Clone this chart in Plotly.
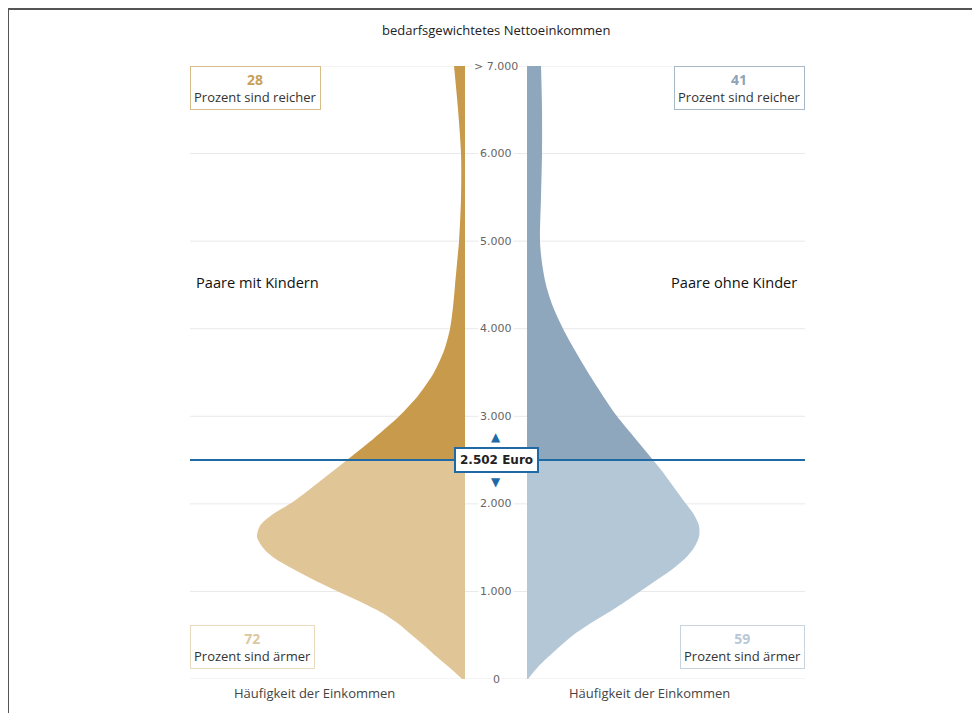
import plotly.graph_objects as go

# ---------------- data ----------------
title_text = "bedarfsgewichtetes Nettoeinkommen"
groups = ["Paare mit Kindern", "Paare ohne Kinder"]
median_income = 2502
median_label = "2.502 Euro"
pct_richer = [28, 41]
pct_poorer = [72, 59]

# income levels (Euro) and relative frequency (density) per group
income = [0, 125, 250, 375, 500, 625, 750, 875, 1000, 1125, 1250, 1375, 1500,
          1625, 1750, 1875, 2000, 2125, 2250, 2375, 2502,
          2750, 3000, 3250, 3500, 3750, 4000, 4250, 4500, 4750, 5000, 5500,
          6000, 6500, 7000]
dens_kinder = [0.03, 0.15, 0.28, 0.40, 0.53, 0.66, 0.82, 1.03, 1.27, 1.50,
               1.71, 1.90, 2.02, 2.08, 2.05, 1.93, 1.75, 1.60, 1.46, 1.32, 1.18,
               0.91, 0.66, 0.46, 0.31, 0.21, 0.15, 0.12, 0.10, 0.08, 0.06,
               0.04, 0.04, 0.07, 0.11]
dens_ohne = [0.01, 0.10, 0.21, 0.33, 0.46, 0.62, 0.80, 0.97, 1.13, 1.29,
             1.45, 1.58, 1.67, 1.72, 1.72, 1.67, 1.59, 1.51, 1.43, 1.35, 1.26,
             1.08, 0.90, 0.75, 0.61, 0.48, 0.36, 0.26, 0.19, 0.15, 0.13,
             0.14, 0.15, 0.15, 0.14]

tick_vals = [0, 1000, 2000, 3000, 4000, 5000, 6000, 7000]
tick_text = ["0", "1.000", "2.000", "3.000", "4.000", "5.000", "6.000", "> 7.000"]
axis_label = "Häufigkeit der Einkommen"

# ---------------- styles ----------------
col_upper = ["#c89a4c", "#8fa7bc"]
col_lower = ["#e0c596", "#b4c7d6"]
num_col_rich = ["#c9a057", "#8ea3b8"]
num_col_poor = ["#dcc8a0", "#b8c8d6"]
box_col_rich = ["#d6bd8a", "#a8b8c7"]
box_col_poor = ["#e8dabd", "#c9d5de"]
blue = "#1f6aa5"
txt_font = "Open Sans"
tick_font = "DejaVu Sans"

left_dom = [0.0, 0.4472]
right_dom = [0.548, 1.0]
center_x = (left_dom[1] + right_dom[0]) / 2

# plot area in window pixels: x 190..805, y 66..679 (page has an 8px body offset)
PL, PT, PW, PH = 190, 66, 615, 613
OFF = 8


def px(xw):
    return (xw - PL) / PW


def py(yw):
    return (PT + PH - yw) / PH


fig = go.Figure()

dens_all = [dens_kinder, dens_ohne]
xaxes = ["x", "x2"]
for g in range(2):
    up_y = [v for v in income if v >= median_income]
    up_x = [d for v, d in zip(income, dens_all[g]) if v >= median_income]
    lo_y = [v for v in income if v <= median_income]
    lo_x = [d for v, d in zip(income, dens_all[g]) if v <= median_income]
    fig.add_trace(go.Scatter(x=lo_x, y=lo_y, xaxis=xaxes[g], yaxis="y",
                             mode="lines", line=dict(width=0, shape="spline", smoothing=0.8),
                             fill="tozerox", fillcolor=col_lower[g], name=groups[g],
                             showlegend=False, hoverinfo="skip"))
    fig.add_trace(go.Scatter(x=up_x, y=up_y, xaxis=xaxes[g], yaxis="y",
                             mode="lines", line=dict(width=0, shape="spline", smoothing=0.8),
                             fill="tozerox", fillcolor=col_upper[g], name=groups[g],
                             showlegend=False, hoverinfo="skip"))

shapes = []
for tv in tick_vals:
    shapes.append(dict(type="line", xref="paper", yref="y", x0=0, x1=1, y0=tv, y1=tv,
                       line=dict(color="#e9e9e9", width=1), layer="below"))
shapes.append(dict(type="line", xref="paper", yref="y", x0=0, x1=1,
                   y0=median_income, y1=median_income,
                   line=dict(color=blue, width=2), layer="above"))
shapes.append(dict(type="rect", xref="paper", yref="paper",
                   x0=px(OFF), x1=px(1000), y0=py(740), y1=py(OFF + 1),
                   line=dict(color="#555555", width=2), layer="below"))

ann = []
for tv, tt in zip(tick_vals, tick_text):
    ann.append(dict(xref="paper", yref="y", x=center_x, y=tv, text=tt, showarrow=False,
                    font=dict(family=tick_font, size=11, color="#666666"),
                    bgcolor="white", xanchor="center", yanchor="middle", borderpad=1))
ann.append(dict(xref="paper", yref="y", x=center_x, y=median_income,
                text="<b>" + median_label + "</b>", showarrow=False,
                font=dict(family=tick_font, size=12, color="#222222"),
                bgcolor="white", bordercolor=blue, borderwidth=2, borderpad=4,
                xanchor="center", yanchor="middle"))
ann.append(dict(xref="paper", yref="y", x=center_x, y=median_income, yshift=23,
                text="▲", showarrow=False, font=dict(family=tick_font, size=12, color=blue)))
ann.append(dict(xref="paper", yref="y", x=center_x, y=median_income, yshift=-22,
                text="▼", showarrow=False, font=dict(family=tick_font, size=12, color=blue)))

for g in range(2):
    xa = 0 if g == 0 else 1
    xan = "left" if g == 0 else "right"
    ann.append(dict(xref="paper", yref="paper", x=xa, y=1.0, xanchor=xan, yanchor="top",
                    text=f"<b><span style='color:{num_col_rich[g]};font-size:14px'>{pct_richer[g]}</span></b>"
                         "<br>Prozent sind reicher",
                    showarrow=False, align="center",
                    font=dict(family=txt_font, size=13, color="#333333"),
                    bordercolor=box_col_rich[g], borderwidth=1, borderpad=3, bgcolor="white"))
    ann.append(dict(xref="paper", yref="paper", x=xa, y=py(669),
                    xanchor=xan, yanchor="bottom",
                    text=f"<b><span style='color:{num_col_poor[g]};font-size:14px'>{pct_poorer[g]}</span></b>"
                         "<br>Prozent sind ärmer",
                    showarrow=False, align="center",
                    font=dict(family=txt_font, size=13, color="#333333"),
                    bordercolor=box_col_poor[g], borderwidth=1, borderpad=3, bgcolor="white"))

ann.append(dict(xref="paper", yref="paper", x=px(194), y=py(282),
                xanchor="left", yanchor="middle", text=groups[0], showarrow=False,
                font=dict(family=txt_font, size=14.6, color="#111111")))
ann.append(dict(xref="paper", yref="paper", x=px(669), y=py(282),
                xanchor="left", yanchor="middle", text=groups[1], showarrow=False,
                font=dict(family=txt_font, size=14.6, color="#111111")))

for xc in [px(314), px(649)]:
    ann.append(dict(xref="paper", yref="paper", x=xc, y=py(693),
                    xanchor="center", yanchor="middle", text=axis_label, showarrow=False,
                    font=dict(family=txt_font, size=13, color="#444444")))

ann.append(dict(xref="paper", yref="paper", x=center_x, y=py(30),
                xanchor="center", yanchor="middle", text=title_text, showarrow=False,
                font=dict(family=txt_font, size=13, color="#222222")))

W, H = 980, 713
fig.update_layout(
    width=W, height=H,
    margin=dict(l=PL - OFF, r=W - (PL - OFF) - PW, t=PT - OFF, b=H - (PT - OFF) - PH),
    paper_bgcolor="white", plot_bgcolor="white",
    xaxis=dict(domain=left_dom, range=[2.75, 0], visible=False, fixedrange=True),
    xaxis2=dict(domain=right_dom, range=[0, 2.78], visible=False, anchor="y", fixedrange=True),
    yaxis=dict(range=[0, 7000], visible=False, showgrid=False, zeroline=False, fixedrange=True),
    shapes=shapes, annotations=ann, showlegend=False,
)

fig.write_html("out.html")
